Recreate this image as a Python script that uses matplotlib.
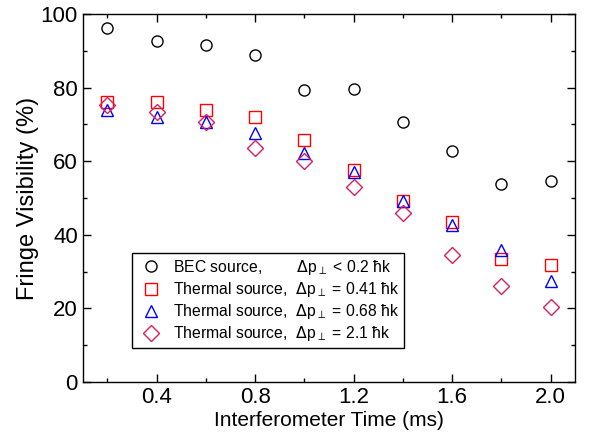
import matplotlib.pyplot as plt
from matplotlib.ticker import MultipleLocator

plt.rcParams['font.family'] = ['Liberation Sans', 'DejaVu Sans']

# interferometer times (ms)
t = [0.2, 0.4, 0.6, 0.8, 1.0, 1.2, 1.4, 1.6, 1.8, 2.0]

# fringe visibility (%)
bec = [96.2, 92.7, 91.5, 89.0, 79.3, 79.6, 70.6, 62.9, 53.7, 54.5]
thermal_041 = [76.2, 76.2, 73.8, 72.1, 65.9, 57.6, 49.3, 43.6, 33.4, 31.7]
thermal_068 = [74.0, 72.0, 70.8, 67.8, 62.3, 57.0, 49.3, 42.6, 36.0, 27.3]
thermal_21 = [75.2, 73.3, 70.8, 63.6, 60.0, 53.1, 45.8, 34.5, 26.0, 20.5]

labels = [
    'BEC source,        $\\Delta$p$_\\perp$ < 0.2 ħk',
    'Thermal source,  $\\Delta$p$_\\perp$ = 0.41 ħk',
    'Thermal source,  $\\Delta$p$_\\perp$ = 0.68 ħk',
    'Thermal source,  $\\Delta$p$_\\perp$ = 2.1 ħk',
]

fig = plt.figure(figsize=(5.96, 4.42), dpi=100)
ax = fig.add_axes([0.139, 0.136, 0.826, 0.832])

ax.plot(t, bec, 'o', ms=8, mfc='none', mec='black', mew=1.0, label=labels[0])
ax.plot(t, thermal_041, 's', ms=8, mfc='none', mec='#ff0000', mew=1.0, label=labels[1])
ax.plot(t, thermal_068, '^', ms=9, mfc='none', mec='#0000ff', mew=1.0, label=labels[2])
ax.plot(t, thermal_21, 'D', ms=8, mfc='none', mec='#dc1e5a', mew=1.0, label=labels[3])

ax.set_xlim(0.1, 2.1)
ax.set_ylim(0, 100)
ax.xaxis.set_minor_locator(MultipleLocator(0.2))
ax.yaxis.set_major_locator(MultipleLocator(20))
ax.yaxis.set_minor_locator(MultipleLocator(10))
ax.set_xticks([0.4, 0.8, 1.2, 1.6, 2.0])
ax.set_xticklabels(['0.4', '0.8', '1.2', '1.6', '2.0'])
ax.tick_params(which='both', direction='in', top=True, right=True, labelsize=16, width=1)
ax.tick_params(which='major', length=6)
ax.tick_params(which='minor', length=3)
for s in ax.spines.values():
    s.set_linewidth(1.0)

ax.set_xlabel('Interferometer Time (ms)', fontsize=15, labelpad=2)
ax.set_ylabel('Fringe Visibility (%)', fontsize=17, labelpad=1)

leg = ax.legend(loc='lower left', bbox_to_anchor=(0.1, 0.092), fontsize=11.3,
                frameon=True, fancybox=False, edgecolor='black', framealpha=1,
                handletextpad=0.5, borderpad=0.3, labelspacing=0.2,
                handlelength=1.8, borderaxespad=0)
leg.get_frame().set_linewidth(1.0)

fig.savefig('out.png', dpi=100)
